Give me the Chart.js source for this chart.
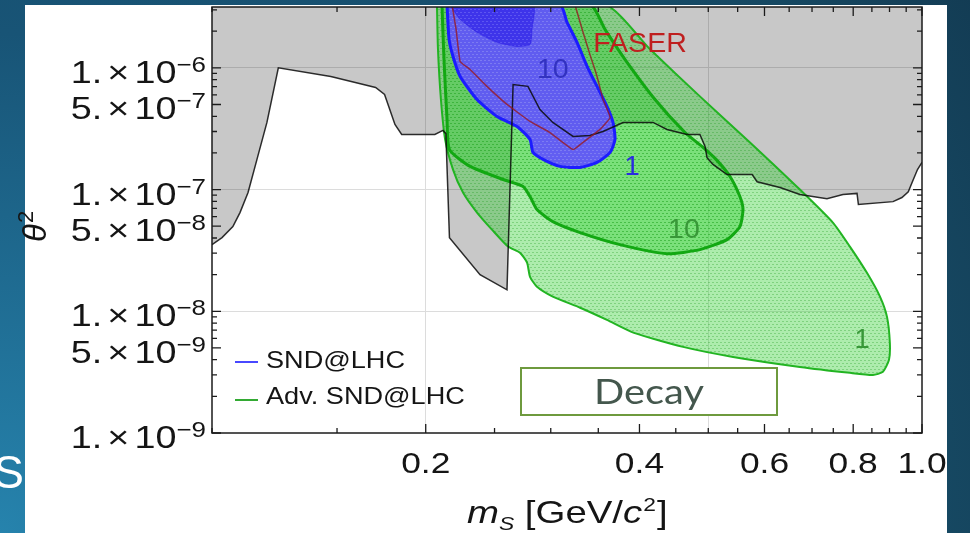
<!DOCTYPE html>
<html>
<head>
<meta charset="utf-8">
<script src="https://cdn.jsdelivr.net/npm/chart.js@4.4.1/dist/chart.umd.min.js"></script>
<style>
  html, body { margin: 0; padding: 0; background: #154560; }
  #wrap { position: relative; width: 970px; height: 533px; overflow: hidden; }
  canvas { display: block; }
</style>
</head>
<body>
<div id="wrap"><canvas id="c" width="970" height="533"></canvas></div>
<script>
// Scalar mass m_S [GeV/c^2] against mixing theta^2, log-log.

// Upper edge of the unexcluded (white) area; everything above it is excluded.
const excludedMass = [0.1, 0.1033, 0.107, 0.1095, 0.1124, 0.1157, 0.1195, 0.124, 0.147, 0.170, 0.175, 0.181, 0.185,
  0.206, 0.2115, 0.2135, 0.216, 0.2385, 0.2603, 0.2655, 0.2786, 0.2897, 0.302, 0.3225, 0.3406, 0.3554, 0.3793,
  0.418, 0.4373, 0.4667, 0.4866, 0.4948, 0.498, 0.5077, 0.5313, 0.5765, 0.5858, 0.631, 0.673, 0.7348, 0.7738,
  0.81, 0.8136, 0.9104, 0.937, 0.9565, 0.9693, 0.9855, 1.0];
const excludedTheta2 = [3.52e-8, 4.03e-8, 4.96e-8, 6.47e-8, 9.45e-8, 1.77e-7, 3.56e-7, 1.0e-6, 8.5e-7, 6.9e-7, 6.05e-7, 3.43e-7, 2.84e-7,
  2.84e-7, 3.06e-7, 2.88e-7, 4.03e-8, 2.0e-8, 1.5e-8, 7.3e-7, 7.05e-7, 4.55e-7, 3.56e-7, 2.73e-7, 2.78e-7, 3.0e-7, 3.56e-7,
  3.56e-7, 3.12e-7, 2.84e-7, 2.84e-7, 2.26e-7, 1.83e-7, 1.61e-7, 1.33e-7, 1.33e-7, 1.16e-7, 1.04e-7, 9.1e-8, 8.4e-8, 9.1e-8,
  9.3e-8, 7.53e-8, 7.96e-8, 8.6e-8, 9.6e-8, 1.16e-7, 1.46e-7, 1.67e-7];

// Adv. SND@LHC, 1-event contour (closed)
const advOneMass = [0.2074, 0.2081, 0.2101, 0.213, 0.2185, 0.2257, 0.2362, 0.2479, 0.2612, 0.2715, 0.2778, 0.2805,
  0.2869, 0.302, 0.330, 0.36, 0.393, 0.4607, 0.5418, 0.673, 0.7915, 0.853, 0.881, 0.8985, 0.901, 0.8927, 0.8726,
  0.8365, 0.7915, 0.749, 0.673, 0.5724, 0.4866, 0.414, 0.3577, 0.2074];
const advOneTheta2 = [3.3e-6, 1.42e-6, 5.5e-7, 2.58e-7, 1.46e-7, 9.45e-8, 6.47e-8, 4.69e-8, 3.40e-8, 3.03e-8, 2.51e-8, 1.92e-8,
  1.59e-8, 1.32e-8, 1.07e-8, 8.5e-9, 6.65e-9, 5.1e-9, 4.22e-9, 3.49e-9, 3.12e-9, 3.0e-9, 3.18e-9, 3.99e-9, 5.5e-9, 9.0e-9, 1.32e-8,
  2.07e-8, 3.40e-8, 5.35e-8, 1.0e-7, 2.44e-7, 5.83e-7, 1.42e-6, 3.3e-6, 3.3e-6];

// Adv. SND@LHC, 10-event contour (closed)
const advTenMass = [0.2108, 0.2122, 0.2143, 0.216, 0.231, 0.257, 0.2742, 0.2805, 0.2869, 0.302, 0.330, 0.3755, 0.4373,
  0.4866, 0.5313, 0.554, 0.5596, 0.554, 0.5365, 0.5128, 0.4898, 0.4637, 0.4207, 0.3818, 0.3577, 0.3406, 0.2108];
const advTenTheta2 = [3.3e-6, 1.17e-6, 3.77e-7, 2.13e-7, 1.55e-7, 1.21e-7, 1.06e-7, 8.76e-8, 6.85e-8, 5.45e-8, 4.43e-8, 3.53e-8, 2.97e-8,
  3.21e-8, 3.88e-8, 4.96e-8, 6.85e-8, 8.76e-8, 1.28e-7, 1.77e-7, 2.26e-7, 2.94e-7, 5.5e-7, 1.17e-6, 2.07e-6, 3.3e-6, 3.3e-6];

// SND@LHC, 1-event contour (closed)
const sndOneMass = [0.2143, 0.2157, 0.2185, 0.2236, 0.2362, 0.252, 0.2689, 0.2805, 0.2832, 0.2926, 0.309, 0.330,
  0.3486, 0.3637, 0.3695, 0.3671, 0.36, 0.3486, 0.3375, 0.3267, 0.3162, 0.309, 0.2143];
const sndOneTheta2 = [3.3e-6, 1.72e-6, 1.24e-6, 8.5e-7, 5.5e-7, 3.99e-7, 3.30e-7, 2.58e-7, 2.02e-7, 1.77e-7, 1.55e-7, 1.52e-7,
  1.67e-7, 2.02e-7, 2.58e-7, 3.56e-7, 4.82e-7, 7.04e-7, 1.03e-6, 1.62e-6, 2.37e-6, 3.3e-6, 3.3e-6];

// SND@LHC, 10-event contour (closed)
const sndTenMass = [0.216, 0.2236, 0.2362, 0.252, 0.2689, 0.2805, 0.2823, 0.2832, 0.216];
const sndTenTheta2 = [3.3e-6, 2.51e-6, 1.96e-6, 1.62e-6, 1.50e-6, 1.56e-6, 2.07e-6, 3.3e-6, 3.3e-6];

// FASER reach (open curve)
const faserMass = [0.2178, 0.2207, 0.2236, 0.231, 0.2439, 0.2603, 0.2805, 0.2992, 0.3225, 0.3331, 0.352, 0.3637,
  0.3554, 0.3486, 0.3406, 0.3331, 0.3245];
const faserTheta2 = [3.3e-6, 2.07e-6, 1.13e-6, 9.7e-7, 7.04e-7, 5.01e-7, 3.63e-7, 2.94e-7, 2.13e-7, 2.44e-7, 3.12e-7, 3.91e-7,
  5.5e-7, 8.5e-7, 1.29e-6, 1.96e-6, 3.3e-6];

// Axis ticks
const xTickValues = [0.1, 0.15, 0.2, 0.25, 0.3, 0.35, 0.4, 0.45, 0.5, 0.55, 0.6, 0.65, 0.7, 0.75, 0.8, 0.85, 0.9, 0.95, 1.0];
const xLabelValues = [0.2, 0.4, 0.6, 0.8, 1.0];
const xGridValues = [0.2, 0.5];
const yTickValues = [1e-9, 2e-9, 3e-9, 4e-9, 5e-9, 6e-9, 7e-9, 8e-9, 9e-9,
  1e-8, 2e-8, 3e-8, 4e-8, 5e-8, 6e-8, 7e-8, 8e-8, 9e-8,
  1e-7, 2e-7, 3e-7, 4e-7, 5e-7, 6e-7, 7e-7, 8e-7, 9e-7,
  1e-6, 2e-6, 3e-6];
const yLabelValues = [1e-6, 5e-7, 1e-7, 5e-8, 1e-8, 5e-9, 1e-9];
const yGridValues = [1e-8, 1e-7, 1e-6];

const legendEntries = [
  { text: 'SND@LHC', color: '#4848ff' },
  { text: 'Adv. SND@LHC', color: '#33aa33' }
];

const FONT = '"Liberation Sans", Arial, Helvetica, sans-serif';
const INK = '#151515';
const SX = 1.18;

const pts = (xs, ys) => xs.map((v, i) => ({ x: v, y: ys[i] }));
const isIn = (v, list) => list.some(u => Math.abs(v / u - 1) < 1e-6);

function hatch(base, dash) {
  const t = document.createElement('canvas');
  t.width = 4; t.height = 6;
  const g = t.getContext('2d');
  g.fillStyle = base; g.fillRect(0, 0, 4, 6);
  g.fillStyle = dash; g.fillRect(0, 0, 2, 1); g.fillRect(2, 3, 2, 1);
  return g.createPattern(t, 'repeat');
}

function drawText(ctx, s, x, y, font, color, align, sx) {
  ctx.save();
  ctx.font = font;
  ctx.fillStyle = color;
  ctx.textAlign = align || 'left';
  ctx.textBaseline = 'alphabetic';
  ctx.translate(x, y);
  ctx.scale(sx || 1, 1);
  ctx.fillText(s, 0, 0);
  const w = ctx.measureText(s).width * (sx || 1);
  ctx.restore();
  return w;
}
function textWidth(ctx, s, font, sx) {
  ctx.save();
  ctx.font = font;
  const w = ctx.measureText(s).width * (sx || 1);
  ctx.restore();
  return w;
}

const decor = {
  id: 'decor',
  beforeDraw(chart) {
    const { ctx, width, height } = chart;
    ctx.save();
    const g = ctx.createRadialGradient(0, height, 0, 0, height, 1110);
    g.addColorStop(0, '#2683ad');
    g.addColorStop(0.45, '#185476');
    g.addColorStop(0.85, '#164862');
    g.addColorStop(1, '#133c54');
    ctx.fillStyle = g;
    ctx.fillRect(0, 0, width, height);
    ctx.fillStyle = '#ffffff';
    ctx.fillRect(25, 5, 922, height - 5);
    ctx.restore();
    drawText(ctx, 'S', 24, 488, '46px ' + FONT, '#ffffff', 'right', 1);
  },
  afterDraw(chart) {
    const { ctx, chartArea: a, scales: { x, y } } = chart;

    // frame with inward ticks on all four sides
    ctx.save();
    ctx.strokeStyle = '#1b1b1b';
    ctx.lineWidth = 1.5;
    ctx.strokeRect(a.left, a.top, a.right - a.left, a.bottom - a.top);
    ctx.lineWidth = 1.3;
    ctx.beginPath();
    for (const t of x.ticks) {
      const px = x.getPixelForValue(t.value);
      const len = isIn(t.value, xLabelValues) ? 9 : 5;
      ctx.moveTo(px, a.bottom); ctx.lineTo(px, a.bottom - len);
      ctx.moveTo(px, a.top); ctx.lineTo(px, a.top + len);
    }
    for (const t of y.ticks) {
      const py = y.getPixelForValue(t.value);
      const len = isIn(t.value, yLabelValues) ? 9 : 5;
      ctx.moveTo(a.left, py); ctx.lineTo(a.left + len, py);
      ctx.moveTo(a.right, py); ctx.lineTo(a.right - len, py);
    }
    ctx.stroke();
    ctx.restore();

    // x tick labels
    for (const v of xLabelValues) {
      drawText(ctx, v.toFixed(1), x.getPixelForValue(v), a.bottom + 40, '30px ' + FONT, INK, 'center', SX);
    }

    // y tick labels, Mathematica style "1.×10^-6"
    const R = a.left - 6;
    const fB = '32px ' + FONT, fE = '22px ' + FONT;
    for (const v of yLabelValues) {
      const py = y.getPixelForValue(v);
      const e = Math.floor(Math.log10(v) + 1e-9);
      const m = Math.round(v / Math.pow(10, e));
      const expStr = '\u2212' + Math.abs(e);
      const we = textWidth(ctx, expStr, fE, SX);
      drawText(ctx, expStr, R - we, py + 4, fE, INK, 'left', SX);
      const w10 = textWidth(ctx, '10', fB, SX);
      const x10 = R - we - w10;
      drawText(ctx, '10', x10, py + 15, fB, INK, 'left', SX);
      const wx = textWidth(ctx, '\u00d7', fB, SX);
      const xx = x10 - 5 - wx;
      drawText(ctx, '\u00d7', xx, py + 15, fB, INK, 'left', SX);
      const mant = m + '.';
      const wm = textWidth(ctx, mant, fB, SX);
      drawText(ctx, mant, xx - 5 - wm, py + 15, fB, INK, 'left', SX);
    }

    // x axis title: m_S [GeV/c^2]
    let cx = 467;
    const base = 523;
    cx += drawText(ctx, 'm', cx, base, 'italic 32px ' + FONT, INK, 'left', 1.2);
    cx += drawText(ctx, 'S', cx, base + 7, 'italic 19px ' + FONT, INK, 'left', 1.2);
    cx += drawText(ctx, ' [GeV/', cx, base, '32px ' + FONT, INK, 'left', 1.2);
    cx += drawText(ctx, 'c', cx, base, 'italic 32px ' + FONT, INK, 'left', 1.2);
    cx += drawText(ctx, '2', cx + 1, base - 12, '19px ' + FONT, INK, 'left', 1.2) + 1;
    drawText(ctx, ']', cx + 1, base, '32px ' + FONT, INK, 'left', 1.2);

    // y axis title: theta^2, rotated
    ctx.save();
    ctx.translate(46, 242);
    ctx.rotate(-Math.PI / 2);
    ctx.fillStyle = INK;
    ctx.textBaseline = 'alphabetic';
    ctx.font = 'italic 33px ' + FONT;
    ctx.fillText('\u03b8', 0, 0);
    const wt = ctx.measureText('\u03b8').width;
    ctx.font = '22px ' + FONT;
    ctx.fillText('2', wt + 1, -13);
    ctx.restore();

    // contour labels and FASER tag, placed in data coordinates
    const tags = [
      { t: '10', m: 0.302, th: 1.0e-6, c: '#3232c0', f: '28px ' },
      { t: '1', m: 0.3905, th: 1.58e-7, c: '#2a2ae0', f: '27px ' },
      { t: '10', m: 0.462, th: 4.87e-8, c: '#389838', f: '28px ' },
      { t: '1', m: 0.8235, th: 6.05e-9, c: '#389838', f: '27px ' },
      { t: 'FASER', m: 0.4007, th: 1.62e-6, c: '#bf1f1f', f: '28px ' }
    ];
    for (const g of tags) {
      drawText(ctx, g.t, x.getPixelForValue(g.m), y.getPixelForValue(g.th) + 10, g.f + FONT, g.c, 'center', 1.02);
    }

    // legend
    const ly = [362, 400], lb = [368, 404];
    legendEntries.forEach((en, i) => {
      ctx.save();
      ctx.strokeStyle = en.color;
      ctx.lineWidth = 2;
      ctx.beginPath();
      ctx.moveTo(235, ly[i]); ctx.lineTo(258, ly[i]);
      ctx.stroke();
      ctx.restore();
      drawText(ctx, en.text, 266, lb[i], '24px ' + FONT, INK, 'left', 1.13);
    });

    // "Decay" caption box
    ctx.save();
    ctx.fillStyle = '#ffffff';
    ctx.fillRect(521, 368, 256, 47);
    ctx.strokeStyle = '#6e9a3e';
    ctx.lineWidth = 2;
    ctx.strokeRect(521, 368, 256, 47);
    ctx.restore();
    drawText(ctx, 'Decay', 649, 404, '400 34px Lato, "Open Sans", sans-serif', '#44574d', 'center', 1.17);
  }
};

new Chart(document.getElementById('c').getContext('2d'), {
  type: 'line',
  data: {
    datasets: [
      { label: 'excluded', data: pts(excludedMass, excludedTheta2), fill: 'end',
        backgroundColor: 'rgba(0,0,0,0.215)', borderWidth: 0, order: 10 },
      { label: 'Adv. SND@LHC', data: pts(advOneMass, advOneTheta2), fill: 'shape',
        backgroundColor: hatch('rgba(40,205,40,0.38)', 'rgba(20,150,20,0.3)'),
        borderColor: '#22b422', borderWidth: 2, tension: 0.2, order: 9 },
      { label: 'Adv. SND@LHC 10', data: pts(advTenMass, advTenTheta2), fill: 'shape',
        backgroundColor: hatch('rgba(40,205,40,0.38)', 'rgba(20,150,20,0.3)'),
        borderColor: '#12a812', borderWidth: 3, tension: 0.2, order: 8 },
      { label: 'SND@LHC', data: pts(sndOneMass, sndOneTheta2), fill: 'shape',
        backgroundColor: hatch('rgba(95,80,255,0.9)', 'rgba(200,200,255,0.3)'),
        borderColor: '#1c1cff', borderWidth: 3, tension: 0.2, order: 7 },
      { label: 'SND@LHC 10', data: pts(sndTenMass, sndTenTheta2), fill: 'shape',
        backgroundColor: hatch('rgba(40,25,230,0.6)', 'rgba(150,150,255,0.25)'),
        borderColor: 'rgba(40,25,230,0.5)', borderWidth: 1, tension: 0.2, order: 6 },
      { label: 'excluded edge', data: pts(excludedMass, excludedTheta2), fill: false,
        borderColor: 'rgba(10,10,10,0.85)', borderWidth: 1.5, order: 5 },
      { label: 'FASER', data: pts(faserMass, faserTheta2), fill: false,
        borderColor: 'rgba(150,25,35,0.8)', borderWidth: 1.5, tension: 0.1, order: 4 }
    ]
  },
  options: {
    responsive: false,
    animation: false,
    devicePixelRatio: 1,
    events: [],
    layout: { padding: { left: 212, top: 7, right: 48, bottom: 100 } },
    elements: { point: { radius: 0 }, line: { tension: 0 } },
    datasets: { line: { clip: 0 } },
    plugins: { legend: { display: false }, tooltip: { enabled: false }, title: { display: false } },
    scales: {
      x: {
        type: 'logarithmic', min: 0.1, max: 1.0,
        afterFit(s) { s.height = 0; },
        afterBuildTicks(s) { s.ticks = xTickValues.map(v => ({ value: v })); },
        ticks: { display: false },
        border: { display: false },
        grid: { drawTicks: false, lineWidth: 1,
          color: c => (c.tick && isIn(c.tick.value, xGridValues)) ? '#dcdcdc' : 'rgba(0,0,0,0)' }
      },
      y: {
        type: 'logarithmic', min: 1e-9, max: 3.162e-6,
        afterFit(s) { s.width = 0; },
        afterBuildTicks(s) { s.ticks = yTickValues.map(v => ({ value: v })); },
        ticks: { display: false },
        border: { display: false },
        grid: { drawTicks: false, lineWidth: 1,
          color: c => (c.tick && isIn(c.tick.value, yGridValues)) ? '#dcdcdc' : 'rgba(0,0,0,0)' }
      }
    }
  },
  plugins: [decor]
});
</script>
</body>
</html>
